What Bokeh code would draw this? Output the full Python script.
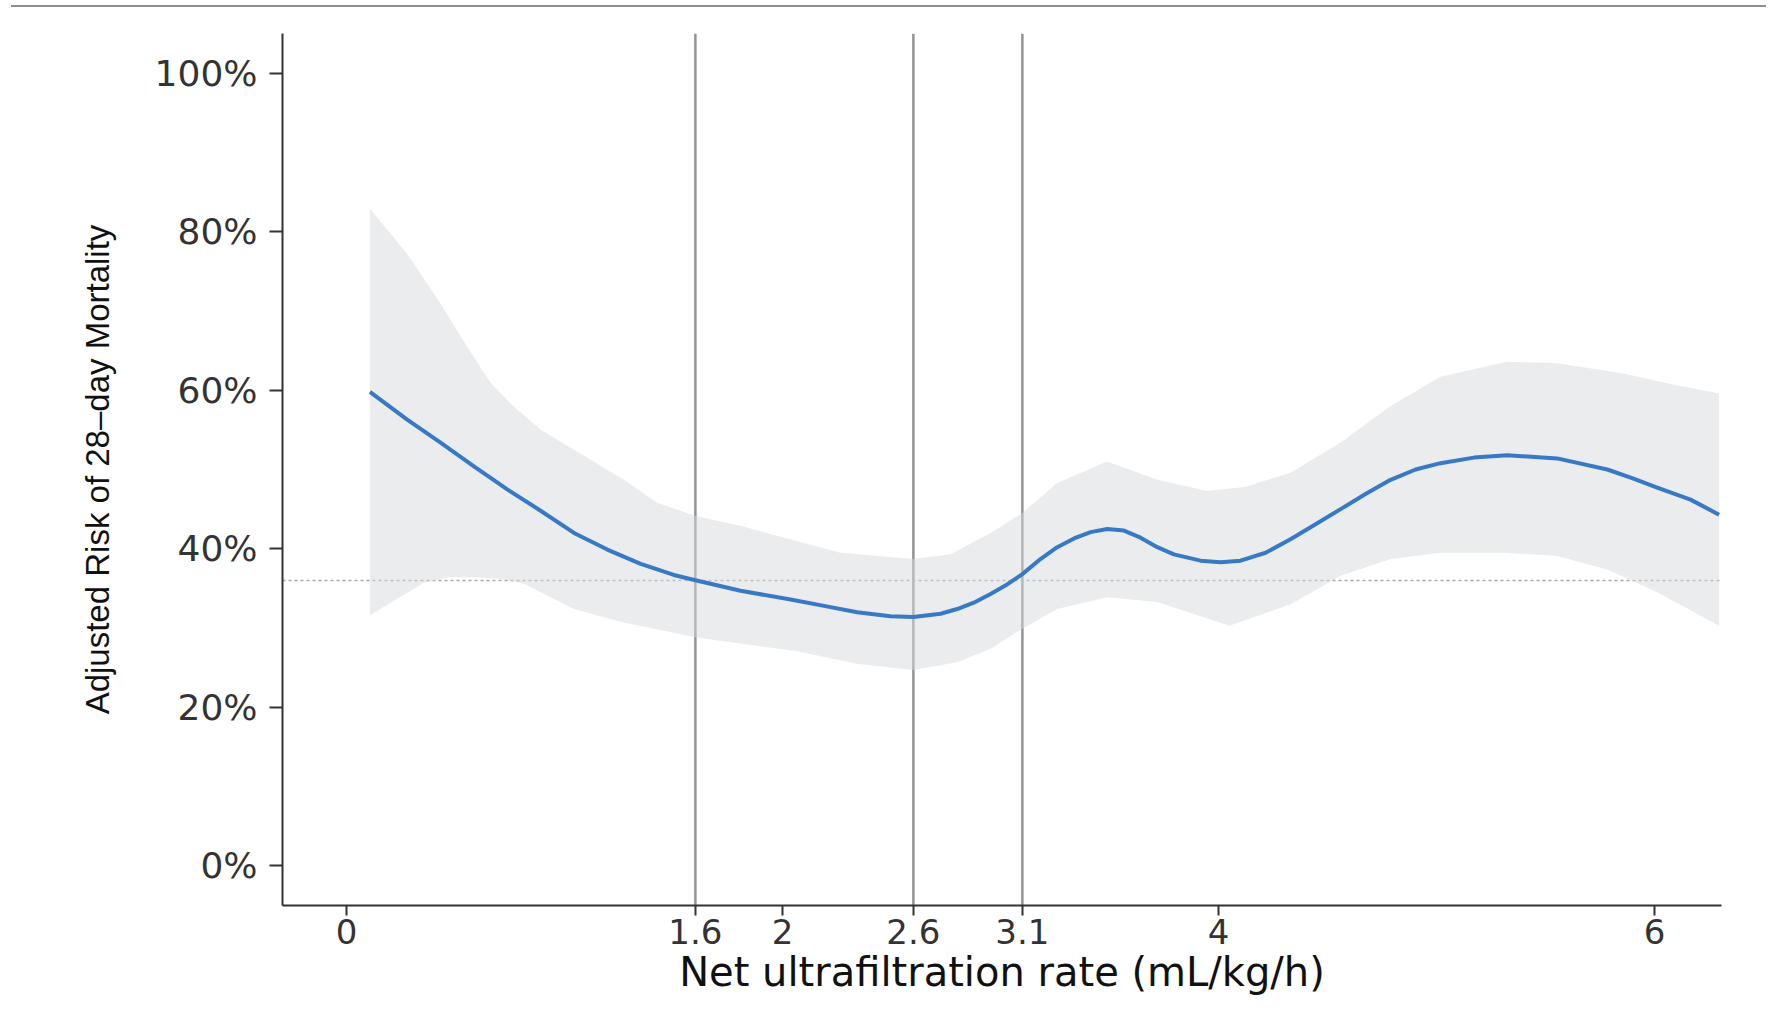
from bokeh.plotting import figure
from bokeh.models import Range1d, FixedTicker, Span, Div
from bokeh.layouts import column
from bokeh.embed import file_html
from bokeh.resources import INLINE

# ---- data ----
curve_x = [0.107, 0.278, 0.431, 0.584, 0.737, 0.890, 1.043, 1.196, 1.349, 1.501, 1.605, 1.807,
           2.037, 2.19, 2.342, 2.495, 2.60, 2.725, 2.801, 2.877, 2.954, 3.03, 3.10, 3.183, 3.26,
           3.337, 3.413, 3.489, 3.566, 3.642, 3.719, 3.795, 3.917, 4.009, 4.101, 4.216, 4.33,
           4.445, 4.56, 4.674, 4.789, 4.904, 5.018, 5.171, 5.324, 5.553, 5.783, 5.897, 6.012,
           6.165, 6.296]
curve_y = [59.8, 56.3, 53.4, 50.4, 47.5, 44.8, 42.0, 39.9, 38.1, 36.7, 36.0, 34.7,
           33.6, 32.8, 32.0, 31.5, 31.4, 31.8, 32.4, 33.2, 34.3, 35.5, 36.8, 38.7, 40.2,
           41.3, 42.1, 42.5, 42.3, 41.4, 40.2, 39.3, 38.5, 38.3, 38.5, 39.5, 41.2,
           43.1, 45.0, 46.9, 48.7, 50.0, 50.8, 51.5, 51.8, 51.4, 50.0, 48.9, 47.7,
           46.2, 44.3]

upper_x = [0.107, 0.278, 0.431, 0.553, 0.661, 0.768, 0.890, 1.043, 1.272, 1.425, 1.605, 1.807,
           2.06, 2.266, 2.60, 2.771, 2.954, 3.10, 3.26, 3.489, 3.719, 3.948, 4.12, 4.33, 4.56,
           4.789, 5.018, 5.324, 5.553, 5.859, 6.089, 6.296]
upper_y = [82.9, 77.2, 70.9, 65.5, 60.9, 57.9, 55.0, 52.5, 48.7, 45.8, 44.1, 42.9,
           41.0, 39.5, 38.7, 39.3, 42.0, 44.5, 48.3, 51.0, 48.7, 47.3, 47.8, 49.6, 53.4,
           58.0, 61.7, 63.6, 63.4, 62.1, 60.7, 59.6]

lower_x = [0.107, 0.232, 0.355, 0.477, 0.584, 0.706, 0.814, 0.921, 1.043, 1.272, 1.605, 2.06,
           2.342, 2.60, 2.801, 2.954, 3.10, 3.26, 3.489, 3.719, 4.05, 4.33, 4.56, 4.789, 5.018,
           5.324, 5.553, 5.783, 6.012, 6.296]
lower_y = [31.6, 33.7, 35.7, 36.4, 36.4, 36.2, 35.6, 34.1, 32.4, 30.7, 28.8, 27.1,
           25.5, 24.7, 25.7, 27.4, 29.9, 32.4, 33.9, 33.3, 30.3, 33.0, 36.6, 38.7, 39.5,
           39.5, 39.1, 37.4, 34.5, 30.3]

cutpoints = [1.6, 2.6, 3.1]
reference_risk = 36.0

x_tick_values = [0, 1.6, 2, 2.6, 3.1, 4, 6]
x_tick_labels = ["0", "1.6", "2", "2.6", "3.1", "4", "6"]
y_tick_values = [0, 20, 40, 60, 80, 100]
y_tick_labels = ["0%", "20%", "40%", "60%", "80%", "100%"]

x_title = "Net ultrafiltration rate (mL/kg/h)"
y_title = "Adjusted Risk of 28\u2013day Mortality"

# ---- top separator rule ----
rule = Div(text="", width=1755, height=7, margin=(0, 0, 0, 11),
           styles={"border-bottom": "2px solid #8e8e8e"})

# ---- figure ----
p = figure(frame_width=1439, frame_height=872,
           x_range=Range1d(-0.294, 6.307), y_range=Range1d(-5, 105),
           output_backend="svg", toolbar_location=None,
           min_border_left=282, min_border_top=26, min_border_right=36, min_border_bottom=96)
p.outline_line_color = None
p.xgrid.visible = False
p.ygrid.visible = False
p.background_fill_color = "white"
p.border_fill_color = "white"

# ribbon
band_xs = upper_x + lower_x[::-1]
band_ys = upper_y + lower_y[::-1]
p.patch(band_xs, band_ys, fill_color="#d8dadc", fill_alpha=0.5, line_color=None)

# reference lines
for c in cutpoints:
    p.add_layout(Span(location=c, dimension="height", line_color="#939393",
                      line_width=2.5, level="underlay"))
p.add_layout(Span(location=reference_risk, dimension="width", line_color="#a6a6a6",
                  line_width=1.5, line_dash="3 3", level="underlay"))

# curve
p.line(curve_x, curve_y, line_color="#3879c6", line_width=4, line_join="round")

# axes
for ax in (p.xaxis[0], p.yaxis[0]):
    ax.axis_line_color = "#333333"
    ax.axis_line_width = 2
    ax.major_tick_line_color = "#333333"
    ax.major_tick_line_width = 2
    ax.major_tick_in = 0
    ax.minor_tick_line_color = None
    ax.major_label_text_font = "DejaVu Sans"
    ax.major_label_text_color = "#333333"
    ax.axis_label_text_color = "#111111"
    ax.axis_label_text_font_style = "normal"

p.xaxis.ticker = FixedTicker(ticks=x_tick_values)
p.xaxis.major_label_overrides = dict(zip(x_tick_values, x_tick_labels))
p.xaxis.major_label_text_font_size = "34px"
p.xaxis.major_tick_out = 10
p.xaxis.major_label_standoff = 3
p.xaxis.axis_label = x_title
p.xaxis.axis_label_text_font = "DejaVu Sans"
p.xaxis.axis_label_text_font_size = "40px"
p.xaxis.axis_label_standoff = 2

p.yaxis.ticker = FixedTicker(ticks=y_tick_values)
p.yaxis.major_label_overrides = dict(zip(y_tick_values, y_tick_labels))
p.yaxis.major_label_text_font_size = "36px"
p.yaxis.major_tick_out = 13
p.yaxis.major_label_standoff = 12
p.yaxis.axis_label = y_title
p.yaxis.axis_label_text_font = "Liberation Sans"
p.yaxis.axis_label_text_font_size = "33px"
p.yaxis.axis_label_standoff = 36

layout = column(rule, p, spacing=0)
open("out.html", "w").write(file_html(layout, INLINE))
